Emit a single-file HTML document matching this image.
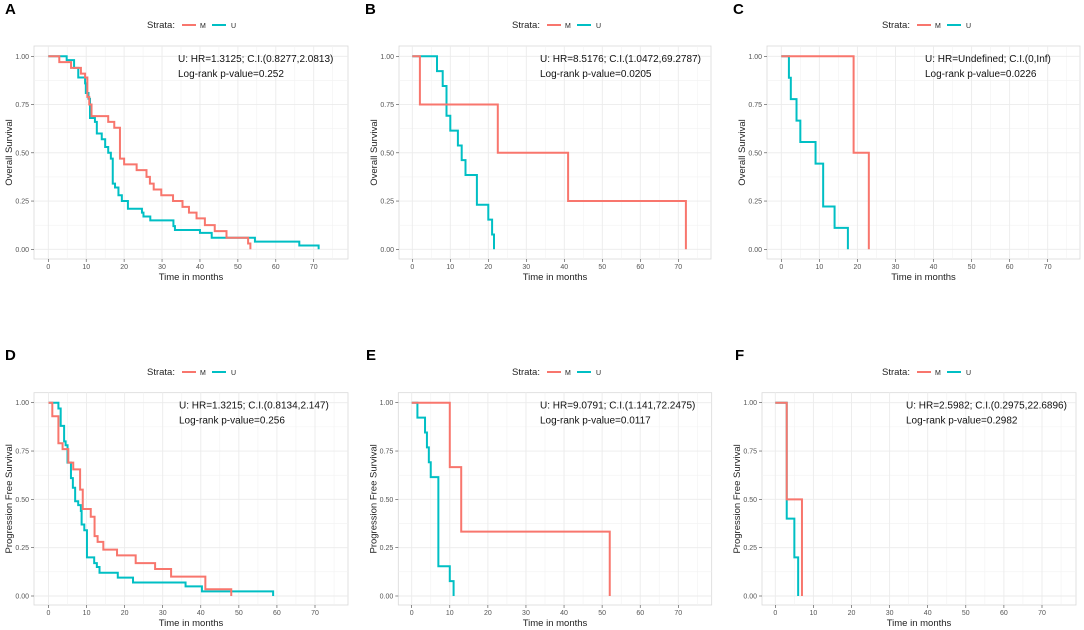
<!DOCTYPE html>
<html><head><meta charset="utf-8">
<style>
body{margin:0;background:#fff;}
svg{display:block;font-family:"Liberation Sans",sans-serif;}
</style></head>
<body>
<svg id="fig" width="1084" height="630" viewBox="0 0 1084 630"></svg>
<script>
// ---- data (time in months, survival after each drop) ----
const A_M_t=[2.9,6,8.6,9.7,10.3,10.8,11.4,15.8,17.4,18.9,20,23.3,25.9,26.8,27.8,29.8,32.9,35.4,37.1,39.1,41.3,43.9,47,52.7,53.3];
const A_M_s=[0.97,0.94,0.91,0.89,0.79,0.75,0.69,0.66,0.63,0.47,0.44,0.41,0.375,0.34,0.31,0.28,0.25,0.22,0.19,0.16,0.125,0.094,0.06,0.03,0];
const A_U_t=[4.85,6.8,7.9,9.7,9.9,10.6,11,12.3,12.8,14.1,15,15.8,16.5,17,17.6,18.5,19.4,21,24.7,25.1,26.9,33,33.4,40,43.1,54.5,66.2,71.3];
const A_U_s=[0.98,0.94,0.89,0.86,0.81,0.78,0.68,0.66,0.6,0.57,0.53,0.5,0.47,0.34,0.32,0.28,0.25,0.21,0.19,0.17,0.15,0.12,0.1,0.085,0.06,0.04,0.02,0];
const B_M_t=[2,22.5,41,72];
const B_M_s=[0.75,0.5,0.25,0];
const B_U_t=[6.5,8,9,10,12,13,14,17,20,21,21.5];
const B_U_s=[0.923,0.846,0.692,0.615,0.538,0.462,0.385,0.231,0.154,0.077,0];
const C_M_t=[19,23];
const C_M_s=[0.5,0];
const C_U_t=[2,2.5,4,5,9,11,14,17.5];
const C_U_s=[0.889,0.778,0.667,0.556,0.444,0.222,0.111,0];
const D_M_t=[1,2.6,3.7,5.2,6.5,8.3,9,11.1,12.1,12.9,14.4,18,22.9,28,32.2,41.2,48];
const D_M_s=[0.93,0.79,0.76,0.69,0.655,0.55,0.45,0.41,0.31,0.28,0.24,0.21,0.17,0.14,0.10,0.035,0];
const D_U_t=[2.6,3.2,4.1,4.5,5,5.9,6.4,7,7.8,8.5,8.7,9.4,10.1,12,12.7,13.4,18.2,22.2,36,40.3,59];
const D_U_s=[0.97,0.88,0.8,0.78,0.69,0.61,0.56,0.49,0.47,0.44,0.37,0.34,0.2,0.17,0.15,0.12,0.095,0.07,0.05,0.024,0];
const E_M_t=[10,13,52];
const E_M_s=[0.667,0.333,0];
const E_U_t=[1.5,3.5,4,4.5,5,7,10,11];
const E_U_s=[0.923,0.846,0.769,0.692,0.615,0.154,0.077,0];
const F_M_t=[3,7];
const F_M_s=[0.5,0];
const F_U_t=[3,5,6];
const F_U_s=[0.4,0.2,0];
const xTicks=[0,10,20,30,40,50,60,70];
const yTicks=[0,0.25,0.5,0.75,1];
const yTickLabels=["0.00","0.25","0.50","0.75","1.00"];
const annot1=["U: HR=1.3125; C.I.(0.8277,2.0813)","U: HR=8.5176; C.I.(1.0472,69.2787)","U: HR=Undefined; C.I.(0,Inf)","U: HR=1.3215; C.I.(0.8134,2.147)","U: HR=9.0791; C.I.(1.141,72.2475)","U: HR=2.5982; C.I.(0.2975,22.6896)"];
const annot2=["Log-rank p-value=0.252","Log-rank p-value=0.0205","Log-rank p-value=0.0226","Log-rank p-value=0.256","Log-rank p-value=0.0117","Log-rank p-value=0.2982"];

const panels=[
 {id:"A",bx0:34,bx1:348,by0:46,by1:259,x0:48.3,x70:313.7,y1:56.3,y0:249.3,yl:"Overall Survival",ax:178,m:[A_M_t,A_M_s],u:[A_U_t,A_U_s],lx:5,ly:14,legx:190,legy:25},
 {id:"B",bx0:399,bx1:711,by0:46,by1:259,x0:412.3,x70:678.3,y1:56.3,y0:249.3,yl:"Overall Survival",ax:540,m:[B_M_t,B_M_s],u:[B_U_t,B_U_s],lx:365,ly:14,legx:555,legy:25},
 {id:"C",bx0:767,bx1:1080,by0:46,by1:259,x0:781.3,x70:1047.7,y1:56.3,y0:249.3,yl:"Overall Survival",ax:925,m:[C_M_t,C_M_s],u:[C_U_t,C_U_s],lx:733,ly:14,legx:925,legy:25},
 {id:"D",bx0:34,bx1:348,by0:392.7,by1:605,x0:48.5,x70:315,y1:402.7,y0:596,yl:"Progression Free Survival",ax:179,m:[D_M_t,D_M_s],u:[D_U_t,D_U_s],lx:5,ly:360,legx:190,legy:372},
 {id:"E",bx0:398.3,bx1:711.7,by0:392.7,by1:605,x0:411.7,x70:678.3,y1:402.7,y0:596,yl:"Progression Free Survival",ax:540,m:[E_M_t,E_M_s],u:[E_U_t,E_U_s],lx:366,ly:360,legx:555,legy:372},
 {id:"F",bx0:762,bx1:1076,by0:392.7,by1:605,x0:775.3,x70:1042,y1:402.7,y0:596,yl:"Progression Free Survival",ax:906,m:[F_M_t,F_M_s],u:[F_U_t,F_U_s],lx:735,ly:360,legx:925,legy:372}
];
const NS="http://www.w3.org/2000/svg";
const svg=document.getElementById('fig');
function mk(tag,attrs,parent,text){const e=document.createElementNS(NS,tag);for(const k in attrs)e.setAttribute(k,attrs[k]);if(text!==undefined)e.textContent=text;(parent||svg).appendChild(e);return e;}
const RED="#F8766D",CYAN="#00BFC4";
panels.forEach((p,pi)=>{
 const g=mk('g',{});
 
 
 const sx=t=>p.x0+(p.x70-p.x0)*t/70;
 const sy=v=>p.y0+(p.y1-p.y0)*v;
 const lab=mk('text',{x:p.lx,y:p.ly,'font-size':15,'font-weight':'bold',fill:'#000'},g,p.id);
 
 
 // legend
 const lg=mk('g',{},g);
 
 
 mk('text',{x:p.legx-43,y:p.legy+3,'font-size':9.5,fill:'#222'},lg,'Strata:');
 mk('line',{x1:p.legx-8,x2:p.legx+6,y1:p.legy,y2:p.legy,stroke:RED,'stroke-width':2},lg);
 mk('text',{x:p.legx+10,y:p.legy+3,'font-size':7,fill:'#222'},lg,'M');
 mk('line',{x1:p.legx+22,x2:p.legx+36,y1:p.legy,y2:p.legy,stroke:CYAN,'stroke-width':2},lg);
 mk('text',{x:p.legx+41,y:p.legy+3,'font-size':7,fill:'#222'},lg,'U');
 // panel
 mk('rect',{x:p.bx0,y:p.by0,width:p.bx1-p.bx0,height:p.by1-p.by0,fill:'#fff',stroke:'#d9d9d9','stroke-width':0.8},g);
 for(let t=5;t<80;t+=10){const x=sx(t);if(x<p.bx1)mk('line',{x1:x,x2:x,y1:p.by0,y2:p.by1,stroke:'#f2f2f2','stroke-width':0.6},g);}
 for(let v=0.125;v<1;v+=0.25){mk('line',{x1:p.bx0,x2:p.bx1,y1:sy(v),y2:sy(v),stroke:'#f2f2f2','stroke-width':0.6},g);}
 xTicks.forEach(t=>{const x=sx(t);mk('line',{x1:x,x2:x,y1:p.by0,y2:p.by1,stroke:'#ebebeb','stroke-width':0.9},g);
   mk('line',{x1:x,x2:x,y1:p.by1,y2:p.by1+3,stroke:'#444','stroke-width':0.6},g);
   mk('text',{x:x,y:p.by1+10,'font-size':7,fill:'#555','text-anchor':'middle'},g,String(t));});
 yTicks.forEach((v,i)=>{const y=sy(v);mk('line',{x1:p.bx0,x2:p.bx1,y1:y,y2:y,stroke:'#ebebeb','stroke-width':0.9},g);
   mk('line',{x1:p.bx0-3,x2:p.bx0,y1:y,y2:y,stroke:'#444','stroke-width':0.6},g);
   mk('text',{x:p.bx0-5,y:y+2.5,'font-size':7,fill:'#555','text-anchor':'end'},g,yTickLabels[i]);});
 const xt=mk('text',{x:(p.bx0+p.bx1)/2,y:p.by1+21,'font-size':9.5,fill:'#222','text-anchor':'middle'},g,'Time in months');
 
 
 const cy=(p.by0+p.by1)/2;
 const yt=mk('text',{x:p.bx0-22,y:cy,'font-size':9.5,fill:'#222','text-anchor':'middle',transform:`rotate(-90 ${p.bx0-22} ${cy})`},g,p.yl);
 
 
 // annotations
 mk('text',{x:p.ax,y:p.by0+16,'font-size':10,fill:'#111'},g,annot1[pi]);
 mk('text',{x:p.ax,y:p.by0+31,'font-size':10,fill:'#111'},g,annot2[pi]);
 // curves
 [[p.u,CYAN,'curve-u'],[p.m,RED,'curve-m']].forEach(([d,c,n])=>{
   let s=1,path=`M${sx(0)},${sy(1)}`;
   d[0].forEach((t,i)=>{path+=` H${sx(t)} V${sy(d[1][i])}`;s=d[1][i];});
   const el=mk('path',{d:path,fill:'none',stroke:c,'stroke-width':2},g);
   
   
 });
});
</script>
</body></html>
